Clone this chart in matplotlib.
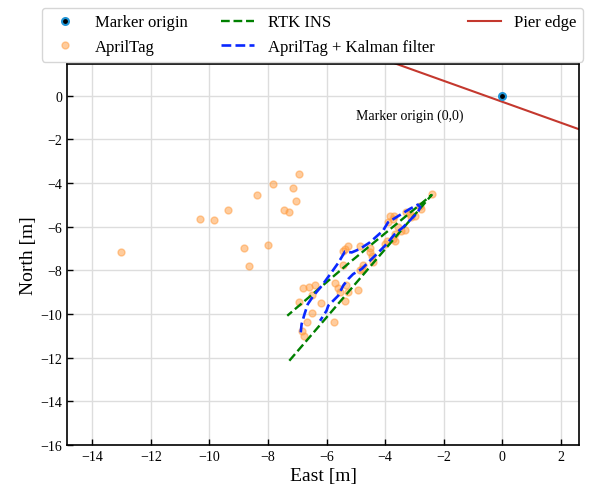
import matplotlib
matplotlib.use("Agg")
import matplotlib.pyplot as plt

plt.rcParams['font.family'] = ['Liberation Serif', 'DejaVu Serif']

# AprilTag detections (east, north) in metres
tag_east = [-13.03, -10.31, -9.85, -9.37, -8.82, -8.65, -8.36, -7.99, -7.82, -7.46,
            -7.28, -7.14, -7.03, -6.94,
            -2.40, -2.82, -2.76, -2.99, -3.16, -3.10, -3.27, -3.84, -3.70, -3.73,
            -3.90, -3.56, -3.33, -3.44, -3.67, -3.73, -3.95, -3.67, -4.01, -5.26,
            -5.37, -5.43, -4.86, -4.52, -4.52, -4.46, -4.41, -5.43, -4.77, -4.80,
            -4.86, -6.81, -6.60, -6.40, -6.49, -6.93, -5.71, -5.60, -5.54, -5.32,
            -5.26, -4.94, -5.37, -6.20, -6.49, -6.66, -5.74, -6.85, -6.77]
tag_north = [-7.17, -5.65, -5.68, -5.25, -6.96, -7.80, -4.54, -6.83, -4.04, -5.22,
             -5.31, -4.23, -4.84, -3.57,
             -4.50, -5.04, -5.19, -5.50, -5.42, -5.57, -5.34, -5.52, -5.52, -5.65,
             -5.80, -6.03, -6.15, -6.18, -6.34, -6.56, -6.64, -6.64, -6.79, -6.87,
             -7.02, -7.10, -6.87, -6.98, -7.17, -7.33, -7.63, -7.74, -7.74, -7.94,
             -8.00, -8.82, -8.75, -8.67, -9.13, -9.44, -8.58, -8.82, -9.01, -8.67,
             -9.01, -8.90, -9.39, -9.50, -9.97, -10.38, -10.35, -10.77, -10.99]

# RTK INS reference track
rtk_east = [-7.27, -2.41, -5.20, -7.34]
rtk_north = [-12.14, -4.55, -7.63, -10.08]

# AprilTag + Kalman filter track
kf_east = [-6.88, -6.85, -6.75, -6.64, -6.45, -6.17, -5.88, -5.60, -5.37, -5.14,
           -4.86, -4.52, -4.07, -3.90, -3.62, -3.16, -2.88, -2.80, -2.88, -3.05,
           -3.39, -3.67, -3.95, -4.29, -4.52, -4.80, -5.09, -5.26, -5.43, -5.60,
           -5.77, -5.94, -6.00, -6.22]
kf_north = [-10.84, -10.46, -10.00, -9.55, -9.17, -8.72, -8.19, -7.66, -7.14, -7.18,
            -7.02, -6.72, -6.18, -5.80, -5.57, -5.19, -4.99, -5.11, -5.34, -5.57,
            -6.03, -6.34, -6.80, -7.26, -7.56, -7.94, -8.17, -8.40, -8.70, -9.16,
            -9.39, -9.62, -9.85, -10.31]

# pier edge line and marker origin
pier_east = [-4.0, 3.0]
pier_north = [1.64, -1.72]
origin_east = [0.0]
origin_north = [0.0]

fig = plt.figure(figsize=(6.03, 4.89), dpi=100)
ax = fig.add_axes([67/603, 43/489, 512/603, 381/489])

pier, = ax.plot(pier_east, pier_north, color='#c4382e', lw=1.5, zorder=2)
orig, = ax.plot(origin_east, origin_north, 'o', color='black', mec='#1f94d6', mew=1.5,
                ms=5, ls='none', zorder=5)
tags, = ax.plot(tag_east, tag_north, 'o', color='#ff9a3c', alpha=0.5, ms=5,
                ls='none', zorder=3)
rtk, = ax.plot(rtk_east, rtk_north, '--', color='green', lw=1.7, zorder=4)
kf, = ax.plot(kf_east, kf_north, '--', color='#0a28ff', lw=1.9, zorder=4)

ax.text(-5.0, -0.9, 'Marker origin (0,0)', fontsize=10, ha='left', va='center')

ax.set_xlim(-14.86, 2.62)
ax.set_ylim(-16, 1.45)
ax.set_xticks(range(-14, 3, 2))
ax.set_yticks(range(-16, 1, 2))
ax.set_xlabel('East [m]', fontsize=14, labelpad=3)
ax.set_ylabel('North [m]', fontsize=14, labelpad=2)
ax.tick_params(direction='in', labelsize=10, length=4, width=1, colors='black')
ax.grid(True, color='#dddddd', lw=1)
ax.set_axisbelow(True)
for sp in ax.spines.values():
    sp.set_linewidth(1.2)

handles = [orig, tags, rtk, kf, pier]
labels = ['Marker origin', 'AprilTag', 'RTK INS', 'AprilTag + Kalman filter', 'Pier edge']
ax.legend(handles, labels, loc='lower left', bbox_to_anchor=(-28/512, 1.0), ncol=3,
          fontsize=12, borderaxespad=0.15)

fig.savefig('out.png', dpi=100)
